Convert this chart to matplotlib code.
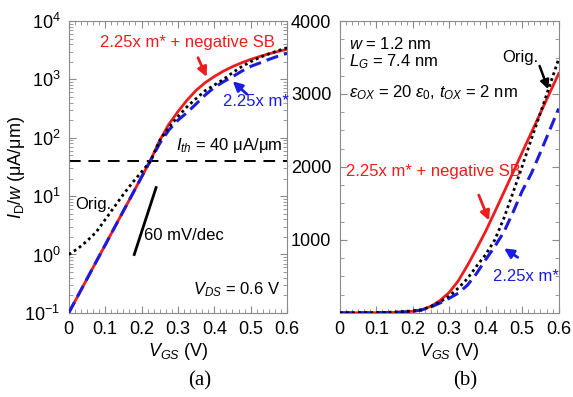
import matplotlib
matplotlib.use("Agg")
import matplotlib.pyplot as plt
from matplotlib.ticker import MultipleLocator, FixedLocator, FuncFormatter, LogLocator, LogFormatterMathtext, NullFormatter

plt.rcParams['font.family'] = ['Liberation Sans', 'DejaVu Sans']
plt.rcParams['mathtext.fontset'] = 'custom'
plt.rcParams['mathtext.rm'] = 'Liberation Sans'
plt.rcParams['mathtext.it'] = 'Liberation Sans:italic'
plt.rcParams['mathtext.bf'] = 'Liberation Sans:bold'

# gate voltage (V)
vgs = [0.0, 0.025, 0.05, 0.075, 0.1, 0.125, 0.15, 0.175, 0.2, 0.225, 0.25, 0.275,
       0.3, 0.325, 0.35, 0.375, 0.4, 0.425, 0.45, 0.475, 0.5, 0.525, 0.55, 0.575, 0.6]

# drain current per width (uA/um)
i_orig = [1.0, 1.26, 1.7, 2.4, 3.95, 6.5, 10.7, 17, 26, 40, 90, 150,
          230, 340, 470, 640, 800, 1000, 1300, 1650, 2010, 2380, 2740, 3110, 3480]
i_mass_sb = [0.1, 0.195, 0.381, 0.745, 1.45, 2.84, 5.55, 10.8, 21.2, 41.5, 90, 170,
             280, 440, 650, 880, 1120, 1385, 1655, 1925, 2200, 2470, 2740, 3010, 3280]
i_mass = [0.1, 0.195, 0.381, 0.745, 1.45, 2.84, 5.55, 10.8, 21.2, 41.0, 80, 135,
          200, 270, 380, 540, 730, 910, 1110, 1380, 1670, 1910, 2200, 2500, 2800]

i_th = 40
slope_ref_v = [0.18, 0.24]
slope_ref_i = [1.0, 14.0]

red = '#ee1c1c'
blue = '#1c1ce0'
frame = '#8a8a8a'

fig = plt.figure(figsize=(5.73, 3.97), dpi=100)
ax1 = fig.add_axes([0.120, 0.212, 0.381, 0.735])
ax2 = fig.add_axes([0.593, 0.212, 0.382, 0.735])


def draw_curves(ax):
    ax.plot(vgs, i_mass_sb, color=red, lw=2.0, zorder=3)
    ax.plot(vgs, i_mass, color=blue, lw=2.2, ls=(0, (4, 2)), zorder=4)
    ax.plot(vgs, i_orig, color='black', lw=2.0, ls=(0, (1, 1.2)), zorder=5)


def style(ax):
    for s in ax.spines.values():
        s.set_color(frame)
        s.set_linewidth(0.8)
    ax.tick_params(which='both', direction='in', top=True, right=True, color=frame,
                   labelsize=13, pad=6)
    ax.tick_params(which='major', length=5)
    ax.tick_params(which='minor', length=3)
    ax.set_xlim(0, 0.6)
    ax.xaxis.set_major_locator(MultipleLocator(0.1))
    ax.xaxis.set_minor_locator(MultipleLocator(0.1 / 6))
    ax.xaxis.set_major_formatter(FuncFormatter(lambda v, p: '0' if abs(v) < 1e-9 else f'{v:.1f}'))
    ax.set_xlabel(r'$V_{GS}$ (V)', fontsize=13, labelpad=2)


# (a) log scale
draw_curves(ax1)
ax1.set_yscale('log')
ax1.set_ylim(0.1, 1e4)
style(ax1)
ax1.yaxis.set_major_locator(LogLocator(base=10, numticks=10))
ax1.yaxis.set_major_formatter(LogFormatterMathtext())
ax1.yaxis.set_minor_locator(LogLocator(base=10, subs=range(2, 10), numticks=20))
ax1.yaxis.set_minor_formatter(NullFormatter())
ax1.axhline(i_th, color='black', lw=1.4, ls=(0, (6, 4)), zorder=2)
ax1.plot(slope_ref_v, slope_ref_i, color='black', lw=2.0)
ax1.set_ylabel(r'$I_{\mathrm{D}}/w$ ($\mathrm{\mu}$A/$\mathrm{\mu}$m)', fontsize=13)
ax1.yaxis.set_label_coords(-0.19, 0.5)

ax1.text(0.142, 0.925, '2.25x m* + negative SB', color=red, fontsize=12,
         transform=ax1.transAxes, ha='left', va='center', clip_on=False)
ax1.annotate('', xy=(0.382, 1000), xytext=(0.352, 2600),
             arrowprops=dict(arrowstyle='-|>', color=red, lw=2, mutation_scale=14))
ax1.text(1.01, 0.723, '2.25x m*', color=blue, fontsize=12,
         transform=ax1.transAxes, ha='right', va='center')
ax1.annotate('', xy=(0.445, 1000), xytext=(0.495, 520),
             arrowprops=dict(arrowstyle='-|>', color=blue, lw=2, mutation_scale=14))
ax1.text(0.49, 0.575, r'$I_{th}$ = 40 $\mathrm{\mu}$A/$\mathrm{\mu}$m', fontsize=12,
         transform=ax1.transAxes, ha='left', va='center')
ax1.text(0.03, 0.37, 'Orig.', fontsize=12, transform=ax1.transAxes, ha='left', va='center')
ax1.text(0.345, 0.265, '60 mV/dec', fontsize=12, transform=ax1.transAxes, ha='left', va='center')
ax1.text(0.57, 0.08, r'$V_{DS}$ = 0.6 V', fontsize=12, transform=ax1.transAxes,
         ha='left', va='center')

# (b) linear scale
draw_curves(ax2)
ax2.set_ylim(0, 4000)
style(ax2)
ax2.yaxis.set_major_locator(FixedLocator([1000, 2000, 3000, 4000]))
ax2.yaxis.set_minor_locator(MultipleLocator(250))

ax2.text(0.04, 0.922, r'$w$ = 1.2 nm', fontsize=12, transform=ax2.transAxes, va='center')
ax2.text(0.04, 0.862, r'$L_G$ = 7.4 nm', fontsize=12, transform=ax2.transAxes, va='center')
ax2.text(0.04, 0.755, r'$\varepsilon_{OX}$ = 20 $\varepsilon_{0}$, $t_{OX}$ = 2 nm', fontsize=12,
         transform=ax2.transAxes, va='center')
ax2.text(0.74, 0.875, 'Orig.', fontsize=12, transform=ax2.transAxes, va='center')
ax2.annotate('', xy=(0.574, 3030), xytext=(0.545, 3420),
             arrowprops=dict(arrowstyle='-|>', color='black', lw=1.8, mutation_scale=13))
ax2.text(0.03, 0.485, '2.25x m* + negative SB', color=red, fontsize=12,
         transform=ax2.transAxes, va='center')
ax2.annotate('', xy=(0.412, 1230), xytext=(0.378, 1650),
             arrowprops=dict(arrowstyle='-|>', color=red, lw=2, mutation_scale=14))
ax2.text(0.70, 0.125, '2.25x m*', color=blue, fontsize=12, transform=ax2.transAxes, va='center')
ax2.annotate('', xy=(0.444, 905), xytext=(0.494, 740),
             arrowprops=dict(arrowstyle='-|>', color=blue, lw=2, mutation_scale=14))

fig.text(0.349, 0.04, '(a)', fontsize=15, family='Liberation Serif', ha='center', va='center')
fig.text(0.812, 0.04, '(b)', fontsize=15, family='Liberation Serif', ha='center', va='center')

fig.savefig('out.png', dpi=100, facecolor='white')
